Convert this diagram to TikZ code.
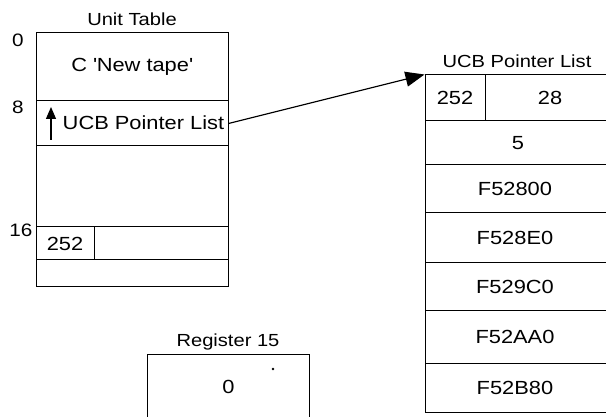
\documentclass[tikz,border=0pt]{standalone}
\usepackage{fontspec}
\setmainfont{Liberation Sans}[FakeStretch=1.15]
\usetikzlibrary{arrows.meta}
\begin{document}
\begin{tikzpicture}[x=1pt,y=-1pt,
  cell/.style={draw, line width=1pt, inner sep=0pt, font=\fontsize{19}{22}\selectfont},
  cellfont/.style={inner sep=0pt, font=\fontsize{19}{22}\selectfont},
  title/.style={inner sep=0pt, font=\fontsize{17.5}{20}\selectfont},
  offs/.style={inner sep=0pt, font=\fontsize{18}{21}\selectfont},
  link/.style={line width=1.2pt, -{Triangle[length=19pt,width=15pt]}}
]
\useasboundingbox (0,0) rectangle (606,417);
\clip (0,0) rectangle (606,417);
\fill[white] (0,0) rectangle (606,417);

% Unit Table
\node[title] (uttitle) at (132,19) {Unit Table};
\node[offs] (o0) at (18,40) {0};
\node[offs] (o8) at (18,107) {8};
\node[offs] (o16) at (21,230) {16};
\node[cell, minimum width=192pt, minimum height=68pt] (ut0) at (132,67) {C \textquotesingle New tape\textquotesingle};
\node[cell, minimum width=192pt, minimum height=45pt] (ut1) at (132,123.5) {};
\node[cellfont] (ut1t) at (143.5,123) {UCB Pointer List};
\coordinate (upfrom) at (51,140);
\coordinate (upto) at (51,107);
\draw[line width=1.3pt, -{Triangle[length=12pt,width=10pt]}] (upfrom) -- (upto);
\node[cell, minimum width=192pt, minimum height=81pt] (ut2) at (132,186.5) {};
\node[cell, minimum width=58pt, minimum height=33pt] (ut3a) at (65,243.5) {252};
\node[cell, minimum width=134pt, minimum height=33pt] (ut3b) at (161,243.5) {};
\node[cell, minimum width=192pt, minimum height=27pt] (ut4) at (132,273.5) {};

% UCB Pointer List (right side runs past the page edge)
\node[title] (ucbtitle) at (517,61) {UCB Pointer List};
\node[cell, minimum width=60pt, minimum height=46pt] (u0a) at (455,98) {252};
\node[cell, minimum width=155pt, minimum height=46pt] (u0b) at (562.5,98) {};
\node[cell, minimum width=215pt, minimum height=44pt] (u1) at (532.5,143) {};
\node[cell, minimum width=215pt, minimum height=48pt] (u2) at (532.5,189) {};
\node[cell, minimum width=215pt, minimum height=50pt] (u3) at (532.5,238) {};
\node[cell, minimum width=215pt, minimum height=48pt] (u4) at (532.5,287) {};
\node[cell, minimum width=215pt, minimum height=52pt] (u5) at (532.5,337) {};
\node[cell, minimum width=215pt, minimum height=49pt] (u6) at (532.5,387.5) {};
\node[cellfont] (t0b) at (550,98) {28};
\node[cellfont] (t1) at (518,143) {5};
\node[cellfont] (t2) at (515,189) {F52800};
\node[cellfont] (t3) at (515,238) {F528E0};
\node[cellfont] (t4) at (515,287) {F529C0};
\node[cellfont] (t5) at (515,337) {F52AA0};
\node[cellfont] (t6) at (515,387.5) {F52B80};

\draw[link] (ut1.east) -- (u0a.north west);

% Register 15
\node[title] (regtitle) at (228,342) {Register 15};
\node[cellfont, minimum width=161pt, minimum height=64pt] (reg) at (228.5,387) {0};
\draw[line width=1pt] (reg.south west) -- (reg.north west) -- (reg.north east) -- (reg.south east);
\fill (273,369) circle (1.4pt);
\end{tikzpicture}
\end{document}
